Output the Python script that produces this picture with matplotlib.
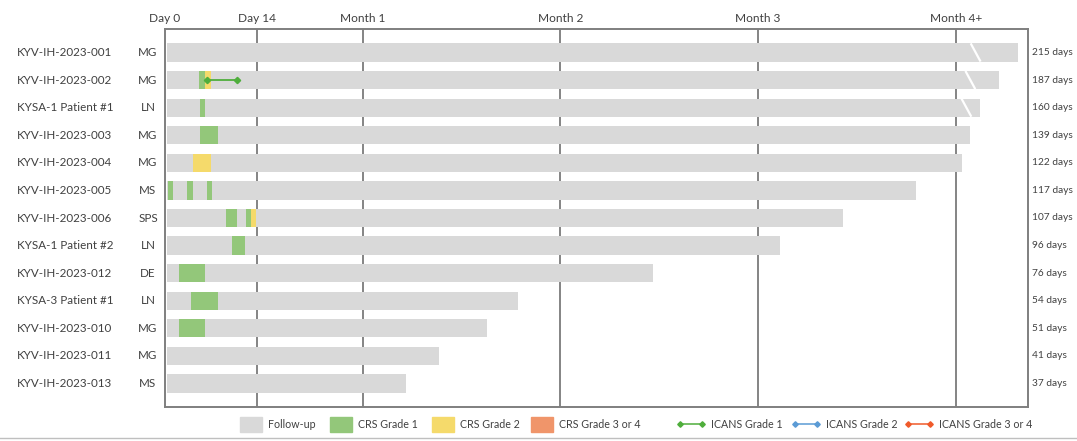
import matplotlib
matplotlib.use('Agg')
import matplotlib.pyplot as plt
from matplotlib.patches import Rectangle
from matplotlib.lines import Line2D
import matplotlib.transforms as mtransforms

plt.rcParams['font.family'] = ['Lato', 'DejaVu Sans']

# ---- data ----
patients = ['KYV-IH-2023-001', 'KYV-IH-2023-002', 'KYSA-1 Patient #1', 'KYV-IH-2023-003',
            'KYV-IH-2023-004', 'KYV-IH-2023-005', 'KYV-IH-2023-006', 'KYSA-1 Patient #2',
            'KYV-IH-2023-012', 'KYSA-3 Patient #1', 'KYV-IH-2023-010', 'KYV-IH-2023-011',
            'KYV-IH-2023-013']
disease = ['MG', 'MG', 'LN', 'MG', 'MG', 'MS', 'SPS', 'LN', 'DE', 'LN', 'MG', 'MG', 'MS']
follow_days = [215, 187, 160, 139, 122, 117, 107, 96, 76, 54, 51, 41, 37]
# drawn bar end on the (compressed) time axis, in days
bar_end = [129.4, 126.5, 123.7, 122.2, 121.0, 113.9, 102.8, 93.3, 74.1, 53.5, 48.9, 41.5, 36.5]
# axis break shown on long bars (day position), None = no break
break_at = [123.0, 122.2, 121.6, None, None, None, None, None, None, None, None, None, None]

# CRS episodes: (row, start day, end day, grade)
crs_row = [1, 1, 2, 3, 4, 5, 5, 5, 6, 6, 6, 7, 8, 9, 10]
crs_start = [5.2, 6.0, 5.3, 5.3, 4.2, 0.4, 3.3, 6.3, 9.3, 12.3, 13.0, 10.2, 2.2, 3.9, 2.2]
crs_end = [6.0, 7.0, 6.0, 8.0, 7.0, 1.2, 4.2, 7.1, 11.0, 13.0, 13.8, 12.1, 6.0, 8.1, 6.0]
crs_grade = [1, 2, 1, 1, 2, 1, 1, 1, 1, 1, 2, 1, 1, 1, 1]

# ICANS episodes
icans_row = [1]
icans_start = [6.3]
icans_end = [11.0]
icans_grade = [1]

tick_days = [0, 14, 30, 60, 90, 120]
tick_labels = ['Day 0', 'Day 14', 'Month 1', 'Month 2', 'Month 3', 'Month 4+']

# ---- style ----
C_FOLLOW = '#d9d9d9'
C_CRS = {1: '#93c77a', 2: '#f5da6b', 3: '#f0956a'}
C_ICANS = {1: '#4fae3c', 2: '#5b9bd5', 3: '#f05a2a'}
TXT = '#404040'
EDGE = '#7f7f7f'
W, H = 1077, 441
BAR_H = 0.66
BAR_START = 0.35

fig = plt.figure(figsize=(W / 100, H / 100), dpi=100)
ax = fig.add_axes([165 / W, 1 - 406.7 / H, (1027.7 - 165) / W, (406.7 - 29.3) / H])

n = len(patients)
rows = list(range(n))
ax.barh(rows, [b - BAR_START for b in bar_end], left=BAR_START, height=BAR_H, color=C_FOLLOW, zorder=1)
for r, b in enumerate(break_at):
    if b is not None:
        ax.plot([b - 0.75, b + 0.75], [r - BAR_H / 2, r + BAR_H / 2], color='white', lw=1.6, zorder=2,
                solid_capstyle='butt')

for r, s, e, g in zip(crs_row, crs_start, crs_end, crs_grade):
    ax.barh(r, e - s, left=s, height=BAR_H, color=C_CRS[g], zorder=3)

for r, s, e, g in zip(icans_row, icans_start, icans_end, icans_grade):
    ax.plot([s, e], [r, r], color=C_ICANS[g], lw=1.3, marker='D', ms=3.2, zorder=4)

for d in tick_days[1:]:
    ax.axvline(d, color='#6f6f6f', lw=1.2, zorder=0.5)

ax.set_xlim(0.1, 130.9)
ax.set_ylim(n - 1 + 0.84, -0.84)
ax.set_yticks([])
ax.xaxis.tick_top()
ax.set_xticks(tick_days)
ax.set_xticklabels(tick_labels, fontsize=8.6, color=TXT)
ax.tick_params(axis='x', length=0, pad=4)
for sp in ax.spines.values():
    sp.set_color(EDGE)
    sp.set_linewidth(1.4)

# row labels
tr = mtransforms.blended_transform_factory(fig.transFigure, ax.transData)
for r in rows:
    ax.text(17 / W, r, patients[r], transform=tr, ha='left', va='center', fontsize=8.4, color=TXT)
    ax.text(148 / W, r, disease[r], transform=tr, ha='center', va='center', fontsize=8.4, color=TXT)
    ax.text(1032 / W, r, f'{follow_days[r]} days', transform=tr, ha='left', va='center', fontsize=7.3,
            color=TXT)

# legend, drawn by hand to match the spacing
def fx(x): return x / W
def fy(y): return 1 - y / H

leg_y = 424
patch_items = [('Follow-up', C_FOLLOW, 240), ('CRS Grade 1', C_CRS[1], 330),
               ('CRS Grade 2', C_CRS[2], 432), ('CRS Grade 3 or 4', C_CRS[3], 531)]
for lab, col, x0 in patch_items:
    fig.add_artist(Rectangle((fx(x0), fy(leg_y + 7.5)), 22 / W, 15 / H, color=col, transform=fig.transFigure))
    fig.text(fx(x0 + 28), fy(leg_y), lab, ha='left', va='center', fontsize=7.7, color=TXT)
line_items = [('ICANS Grade 1', C_ICANS[1], 680), ('ICANS Grade 2', C_ICANS[2], 795),
              ('ICANS Grade 3 or 4', C_ICANS[3], 908)]
for lab, col, x0 in line_items:
    fig.add_artist(Line2D([fx(x0), fx(x0 + 22)], [fy(leg_y), fy(leg_y)], color=col, lw=1.1, marker='D',
                          ms=2.8, transform=fig.transFigure))
    fig.text(fx(x0 + 31), fy(leg_y), lab, ha='left', va='center', fontsize=7.7, color=TXT)

fig.add_artist(Line2D([0, 1], [fy(438), fy(438)], color='#bfbfbf', lw=1, transform=fig.transFigure))

fig.savefig('out.png', dpi=100, facecolor='white')
